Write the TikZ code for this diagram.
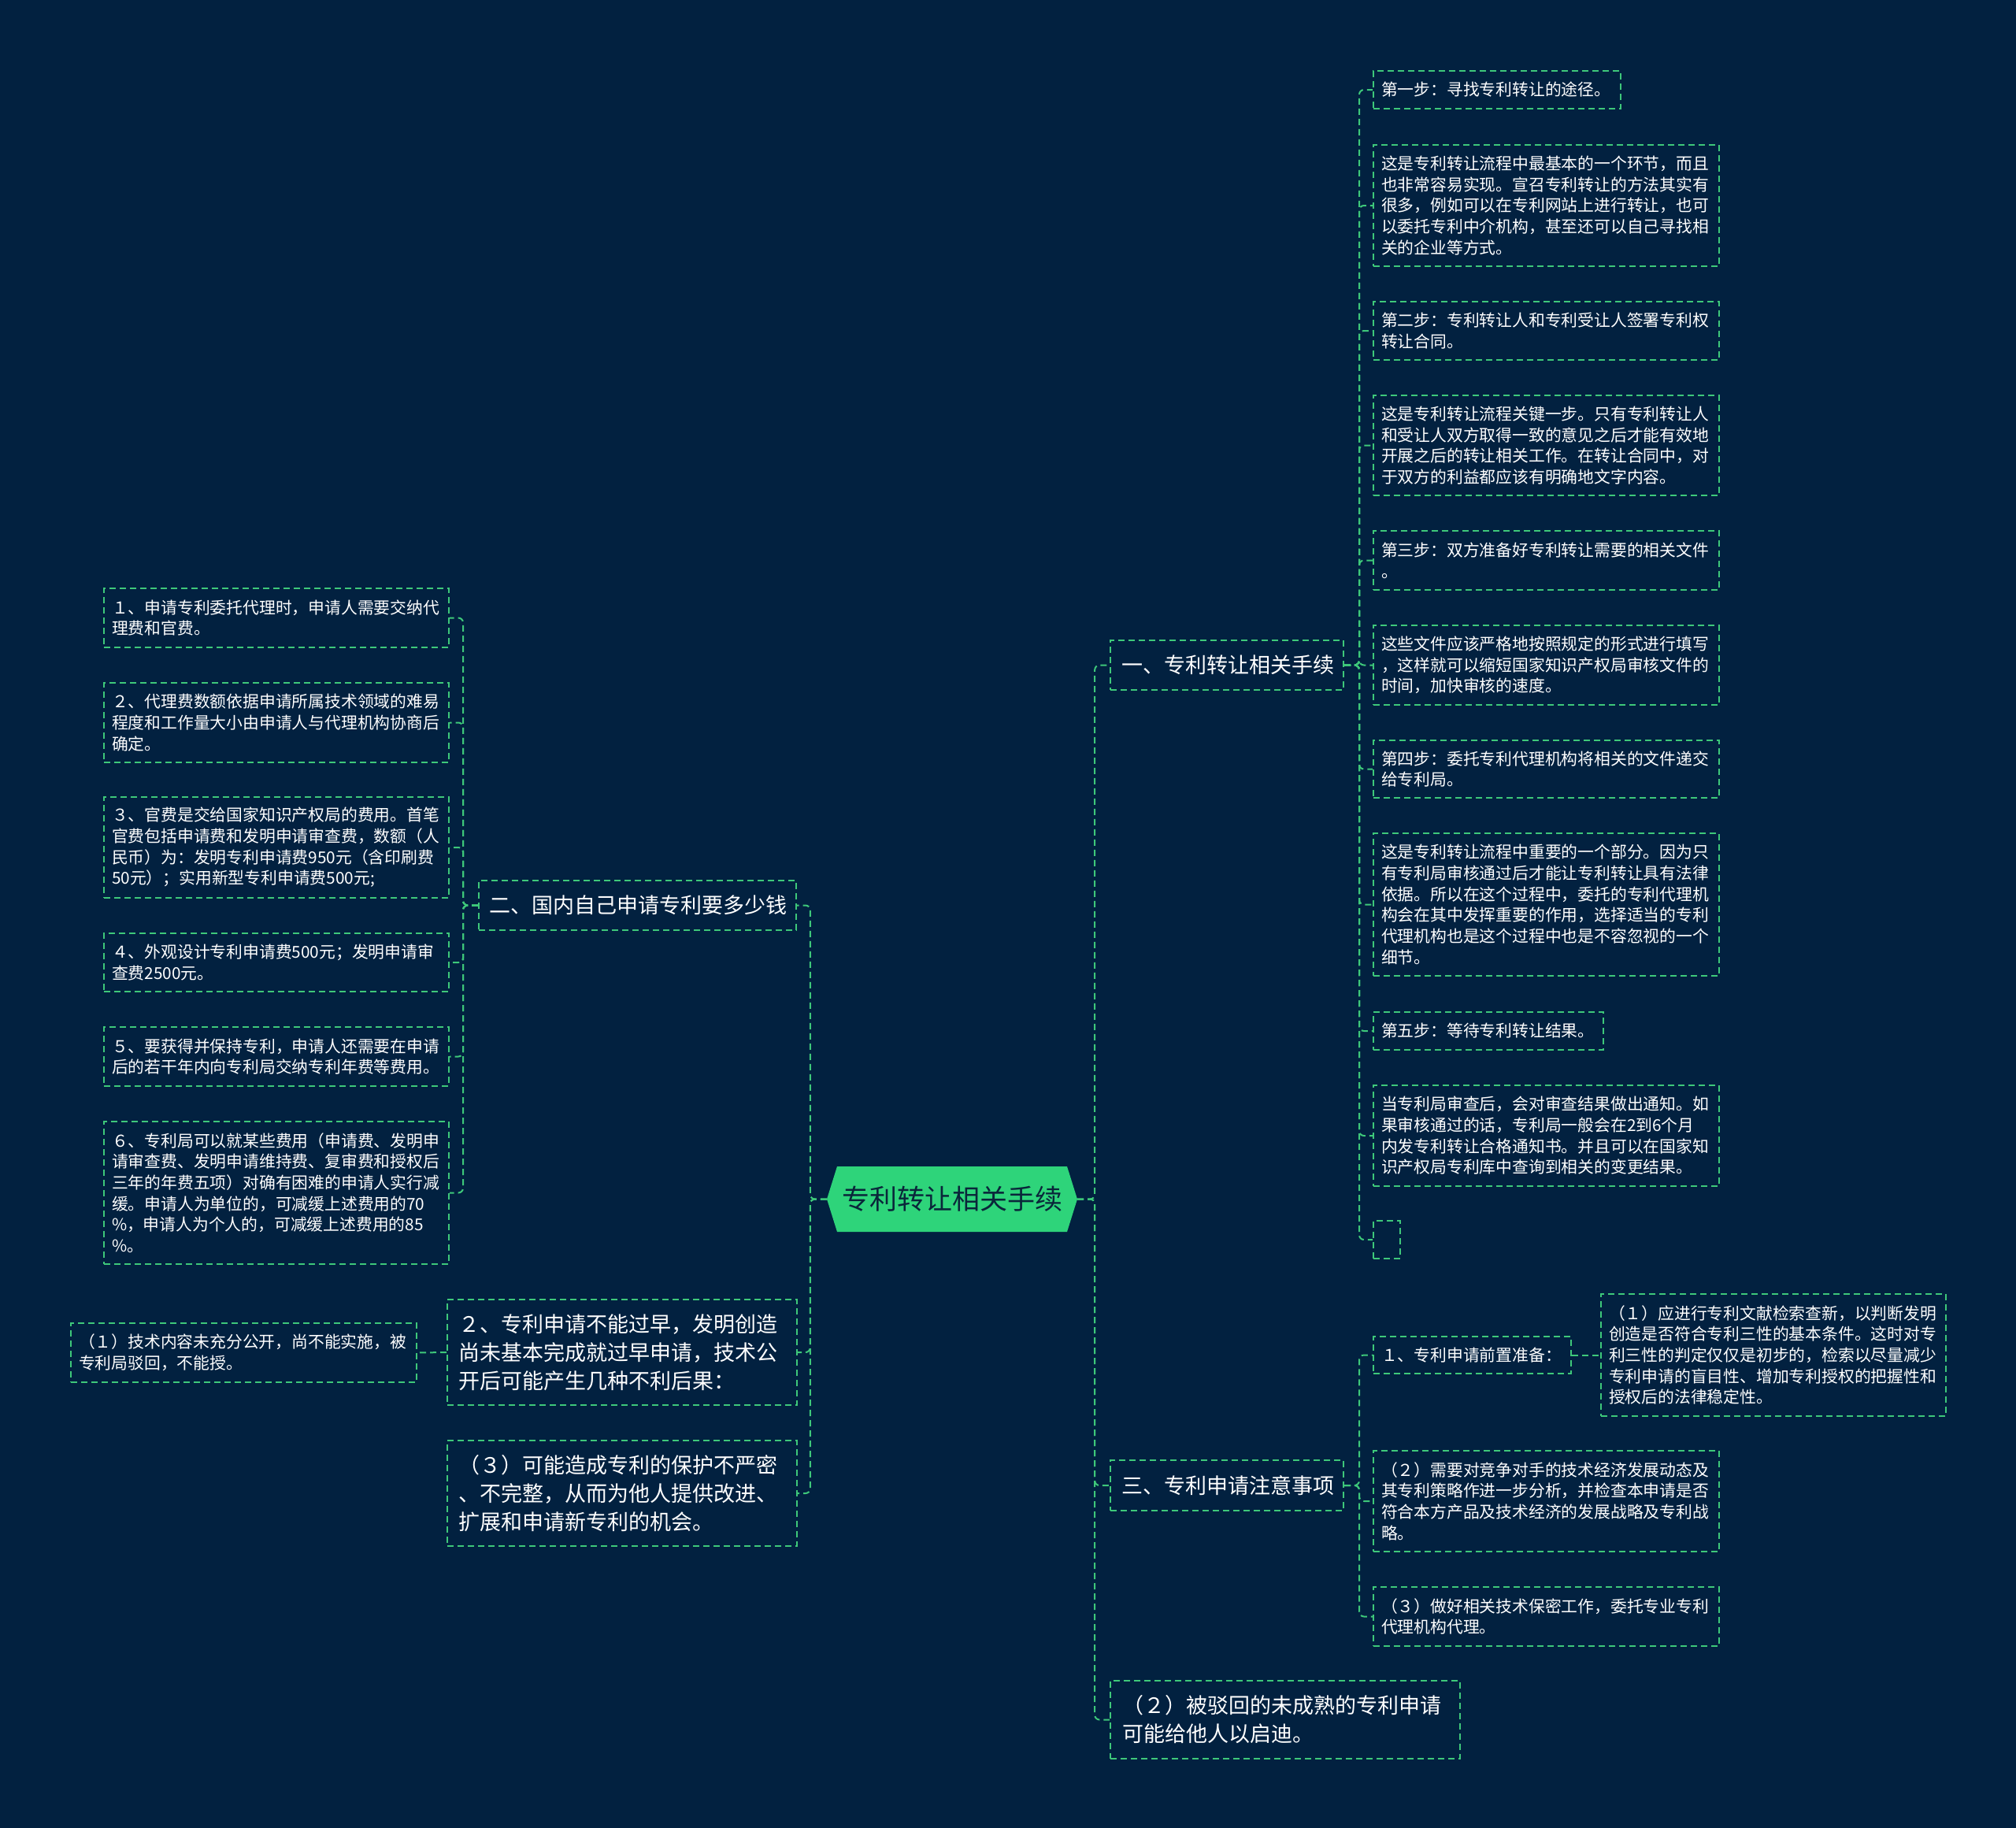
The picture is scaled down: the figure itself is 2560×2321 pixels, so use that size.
\documentclass[tikz,border=0pt]{standalone}
\usepackage{fontspec}
\newfontfamily\cjk{Noto Sans CJK SC}
\definecolor{bgc}{RGB}{2,33,64}
\definecolor{lnc}{RGB}{62,200,122}
\definecolor{rootc}{RGB}{46,212,122}
\definecolor{roottext}{RGB}{10,38,58}
\tikzset{
  box/.style={draw=lnc, line width=2pt, dash pattern=on 8pt off 5pt, anchor=north west,
    inner xsep=10pt, inner ysep=0pt, align=left, text=white,
    font=\cjk\fontsize{20.8}{26.7}\selectfont},
  bigbox/.style={box, inner xsep=14pt, font=\cjk\fontsize{27}{36}\selectfont},
  conn/.style={draw=lnc, line width=2pt, dash pattern=on 8pt off 5pt, rounded corners=6pt},
}
\begin{document}
\begin{tikzpicture}[x=1pt,y=-1pt]
\fill[bgc] (0,0) rectangle (2560,2321);
\useasboundingbox (0,0) rectangle (2560,2321);

% root
\fill[rootc] (1050,1522.5) -- (1063,1481) -- (1355,1481) -- (1368,1522.5) -- (1355,1564) -- (1063,1564) -- cycle;
\node[minimum width=318pt, minimum height=83pt, inner sep=0pt, text=roottext,
  font=\cjk\fontsize{35}{40}\selectfont] (root) at (1209,1522.5) {专利转让相关手续};

% level 1 right
\node[bigbox, text width=268pt, minimum height=63pt] (L1) at (1409,812) {一、专利转让相关手续};
\node[bigbox, text width=268pt, minimum height=64pt] (L3) at (1409,1853) {三、专利申请注意事项};
\node[bigbox, text width=414pt, inner xsep=15pt, minimum height=99pt] (L2b) at (1409,2133) {（２）被驳回的未成熟的专利申请\\可能给他人以启迪。};

% level 1 left
\node[bigbox, text width=377pt, inner xsep=13pt, minimum height=63pt] (L2) at (607,1117) {二、国内自己申请专利要多少钱};
\node[bigbox, text width=416pt, minimum height=134pt] (Lp2) at (567,1649) {２、专利申请不能过早，发明创造\\尚未基本完成就过早申请，技术公\\开后可能产生几种不利后果：};
\node[bigbox, text width=416pt, minimum height=134pt] (Lp3) at (567,1828) {（３）可能造成专利的保护不严密\\、不完整，从而为他人提供改进、\\扩展和申请新专利的机会。};

% children of L1
\node[box, text width=294pt, minimum height=48pt] (r1) at (1743,89) {第一步：寻找专利转让的途径。};
\node[box, text width=419pt, minimum height=154pt] (r2) at (1743,183) {这是专利转让流程中最基本的一个环节，而且\\也非常容易实现。宣召专利转让的方法其实有\\很多，例如可以在专利网站上进行转让，也可\\以委托专利中介机构，甚至还可以自己寻找相\\关的企业等方式。};
\node[box, text width=419pt, minimum height=74pt] (r3) at (1743,382) {第二步：专利转让人和专利受让人签署专利权\\转让合同。};
\node[box, text width=419pt, minimum height=127pt] (r4) at (1743,501) {这是专利转让流程关键一步。只有专利转让人\\和受让人双方取得一致的意见之后才能有效地\\开展之后的转让相关工作。在转让合同中，对\\于双方的利益都应该有明确地文字内容。};
\node[box, text width=419pt, minimum height=75pt] (r5) at (1743,673) {第三步：双方准备好专利转让需要的相关文件\\。};
\node[box, text width=419pt, minimum height=101pt] (r6) at (1743,793) {这些文件应该严格地按照规定的形式进行填写\\，这样就可以缩短国家知识产权局审核文件的\\时间，加快审核的速度。};
\node[box, text width=419pt, minimum height=73pt] (r7) at (1743,939) {第四步：委托专利代理机构将相关的文件递交\\给专利局。};
\node[box, text width=419pt, minimum height=181pt] (r8) at (1743,1057) {这是专利转让流程中重要的一个部分。因为只\\有专利局审核通过后才能让专利转让具有法律\\依据。所以在这个过程中，委托的专利代理机\\构会在其中发挥重要的作用，选择适当的专利\\代理机构也是这个过程中也是不容忽视的一个\\细节。};
\node[box, text width=272pt, minimum height=48pt] (r9) at (1743,1284) {第五步：等待专利转让结果。};
\node[box, text width=419pt, minimum height=128pt] (r10) at (1743,1377) {当专利局审查后，会对审查结果做出通知。如\\果审核通过的话，专利局一般会在2到6个月\\内发专利转让合格通知书。并且可以在国家知\\识产权局专利库中查询到相关的变更结果。};
\node[box, inner xsep=0pt, minimum width=34pt, minimum height=48pt] (r11) at (1743,1549) {};

% children of L3
\node[box, text width=231pt, minimum height=47pt] (s1) at (1743,1696) {１、专利申请前置准备：};
\node[box, text width=418pt, minimum height=155pt] (s1a) at (2032,1642) {（１）应进行专利文献检索查新，以判断发明\\创造是否符合专利三性的基本条件。这时对专\\利三性的判定仅仅是初步的，检索以尽量减少\\专利申请的盲目性、增加专利授权的把握性和\\授权后的法律稳定性。};
\node[box, text width=419pt, minimum height=128pt] (s2) at (1743,1841) {（２）需要对竞争对手的技术经济发展动态及\\其专利策略作进一步分析，并检查本申请是否\\符合本方产品及技术经济的发展战略及专利战\\略。};
\node[box, text width=419pt, minimum height=75pt] (s3) at (1743,2014) {（３）做好相关技术保密工作，委托专业专利\\代理机构代理。};

% children of L2
\node[box, text width=418pt, minimum height=75pt] (l1) at (131,746) {１、申请专利委托代理时，申请人需要交纳代\\理费和官费。};
\node[box, text width=418pt, minimum height=101pt] (l2) at (131,866) {２、代理费数额依据申请所属技术领域的难易\\程度和工作量大小由申请人与代理机构协商后\\确定。};
\node[box, text width=418pt, minimum height=128pt] (l3) at (131,1011) {３、官费是交给国家知识产权局的费用。首笔\\官费包括申请费和发明申请审查费，数额（人\\民币）为：发明专利申请费950元（含印刷费\\50元）；实用新型专利申请费500元;};
\node[box, text width=418pt, minimum height=74pt] (l4) at (131,1184) {４、外观设计专利申请费500元；发明申请审\\查费2500元。};
\node[box, text width=418pt, minimum height=75pt] (l5) at (131,1303) {５、要获得并保持专利，申请人还需要在申请\\后的若干年内向专利局交纳专利年费等费用。};
\node[box, text width=418pt, minimum height=181pt] (l6) at (131,1423) {６、专利局可以就某些费用（申请费、发明申\\请审查费、发明申请维持费、复审费和授权后\\三年的年费五项）对确有困难的申请人实行减\\缓。申请人为单位的，可减缓上述费用的70\\\%，申请人为个人的，可减缓上述费用的85\\\%。};

% child of Lp2
\node[box, text width=419pt, minimum height=75pt] (lp1) at (89,1679) {（１）技术内容未充分公开，尚不能实施，被\\专利局驳回，不能授。};

% connectors root
\foreach \c in {L1,L3,L2b} \draw[conn] (root.east) -- ++(22,0) |- (\c.west);
\foreach \c in {L2,Lp2,Lp3} \draw[conn] (root.west) -- ++(-21,0) |- (\c.east);
% L1
\foreach \c in {r1,r2,r3,r4,r5,r6,r7,r8,r9,r10,r11} \draw[conn] (L1.east) -- ++(19,0) |- (\c.west);
% L3
\foreach \c in {s1,s2,s3} \draw[conn] (L3.east) -- ++(19,0) |- (\c.west);
\draw[conn] (s1.east) -- (s1a.west);
% L2
\foreach \c in {l1,l2,l3,l4,l5,l6} \draw[conn] (L2.west) -- ++(-19,0) |- (\c.east);
\draw[conn] (Lp2.west) -- (lp1.east);
\end{tikzpicture}
\end{document}
